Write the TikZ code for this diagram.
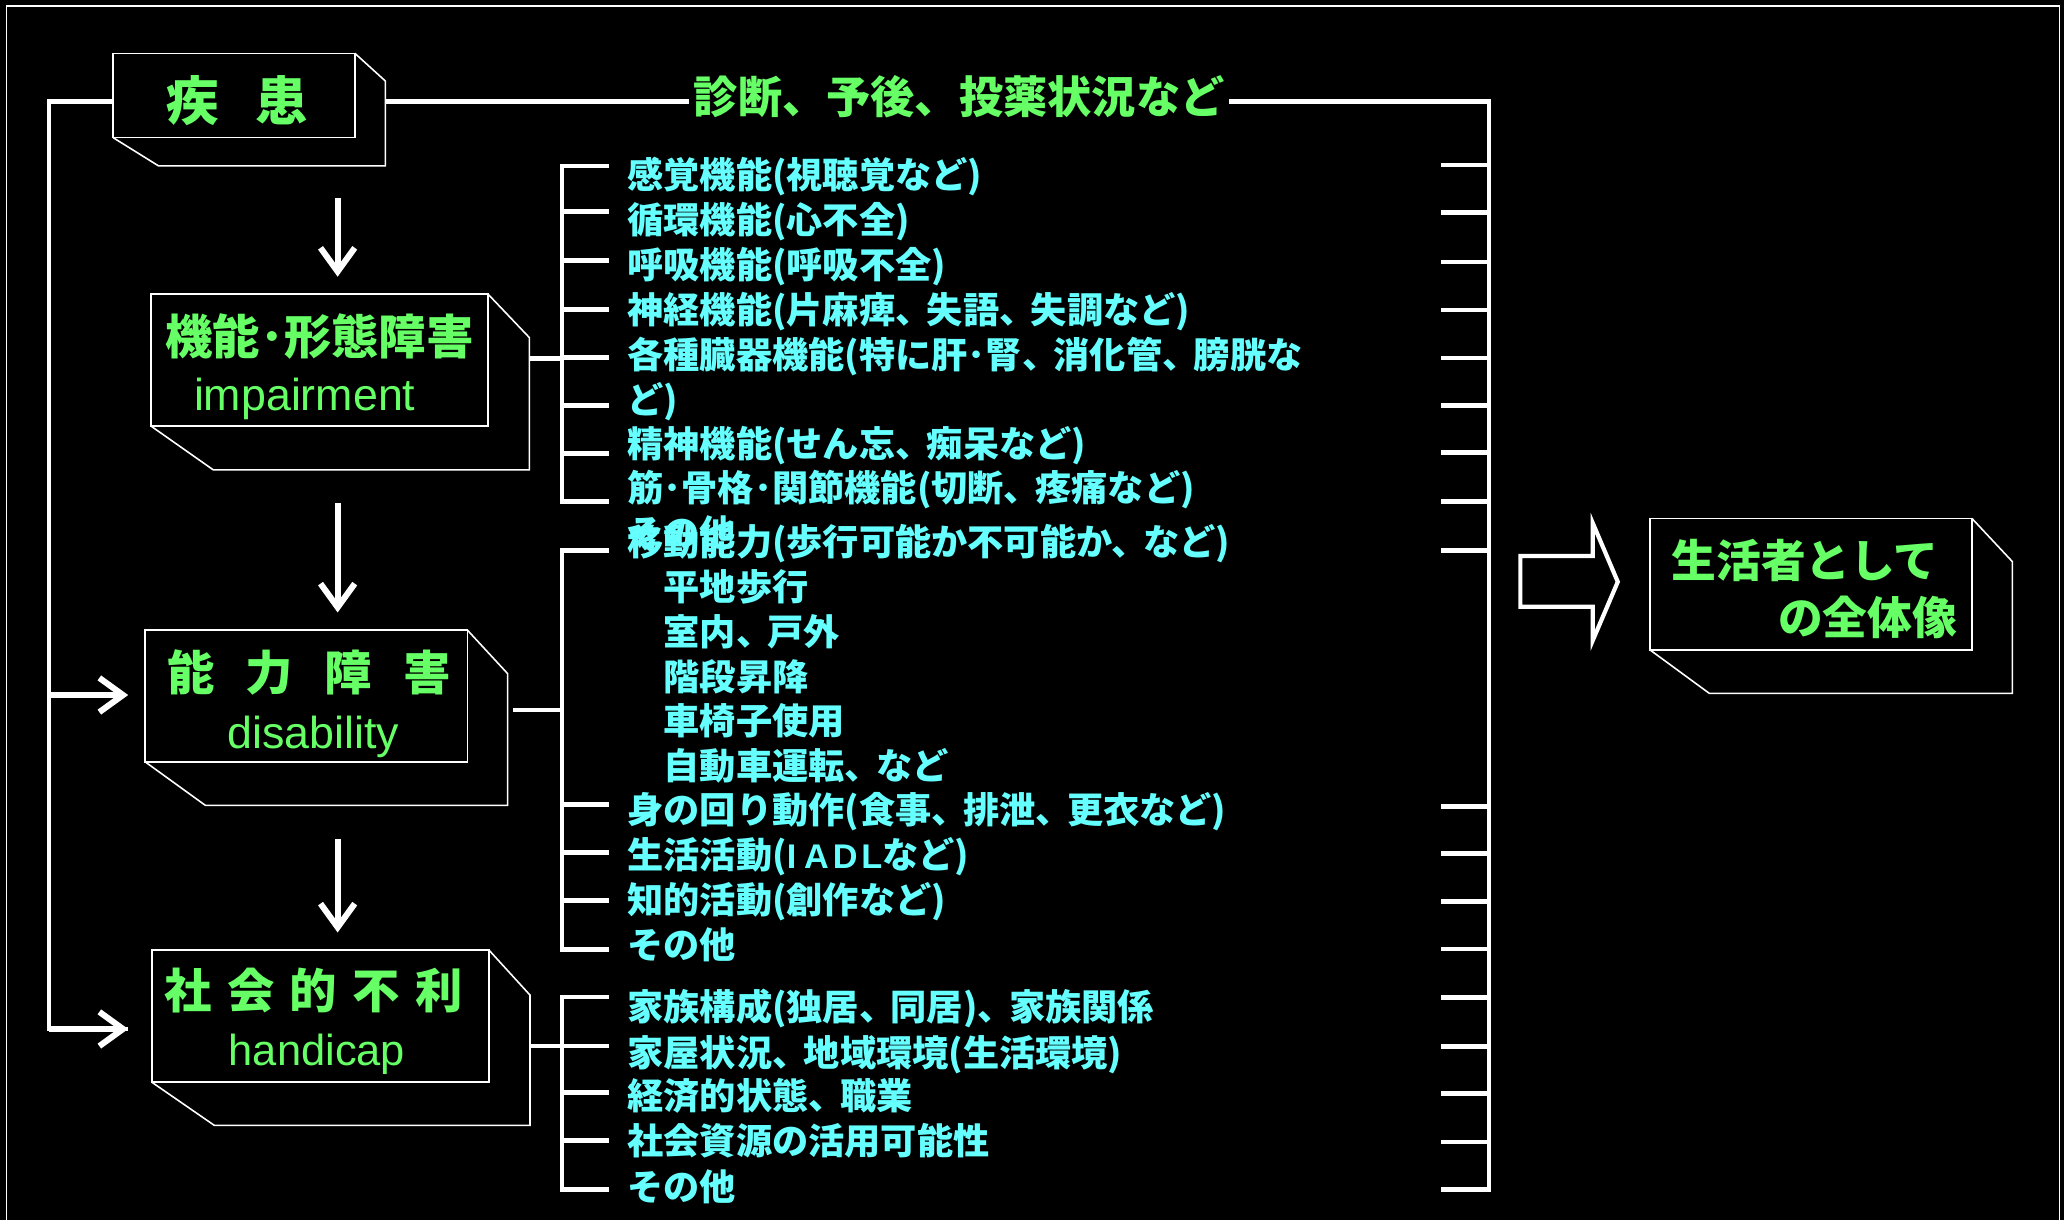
\documentclass[tikz,border=0pt]{standalone}
\usepackage{fontspec}
\usetikzlibrary{arrows.meta}
\newfontfamily\jp{Noto Sans CJK JP}
\newfontfamily\lat{Liberation Sans}
\definecolor{lgreen}{RGB}{102,255,102}
\definecolor{lcyan}{RGB}{102,255,255}
\newcommand\tc{、\kern-3.5pt}
\begin{document}
\begin{tikzpicture}[x=1pt,y=-1pt,
  frontbox/.style={draw=white,line width=1.2pt,inner sep=0pt,outer sep=0pt},
  boxline/.style={draw=white,line width=1.2pt,line join=miter},
  conn/.style={draw=white,line width=3.6pt,line join=miter},
  arr/.style={draw=white,line width=4.6pt,-{Straight Barb[length=18pt,width=26pt]}},
  item/.style={anchor=base west,inner sep=0pt,text=lcyan,font=\jp\bfseries\fontsize{27.5}{30}\selectfont},
  glabel/.style={anchor=base,inner sep=0pt,text=lgreen,font=\jp\bfseries\fontsize{36}{40}\selectfont},
  elabel/.style={anchor=base,inner sep=0pt,text=lgreen,font=\lat\fontsize{34}{38}\selectfont}]
\fill[black] (0,0) rectangle (1568,927);
\useasboundingbox (0,0) rectangle (1568,927);
\draw[white,line width=1.3pt] (5,935) -- (5,4.5) -- (1564.5,4.5) -- (1564.5,935);

% ---- boxes ----
\node[frontbox,minimum width=183.6pt,minimum height=64.1pt] (dis) at (177.8,72.55) {};
\draw[boxline] (dis.north east) -- (292.7,61.5) -- (292.7,126) -- (120.4,126) -- (dis.south west);
\node[frontbox,minimum width=256.1pt,minimum height=100.2pt] (imp) at (242.65,273.5) {};
\draw[boxline] (imp.north east) -- (402.2,256.5) -- (402.2,357) -- (162.1,357) -- (imp.south west);
\node[frontbox,minimum width=244.8pt,minimum height=100.1pt] (dab) at (232.6,528.65) {};
\draw[boxline] (dab.north east) -- (385.6,511.7) -- (385.6,611.8) -- (156,611.8) -- (dab.south west);
\node[frontbox,minimum width=256.1pt,minimum height=100.4pt] (soc) at (243.35,771.9) {};
\draw[boxline] (soc.north east) -- (402.6,755.9) -- (402.6,854.9) -- (162.8,854.9) -- (soc.south west);
\node[frontbox,minimum width=244.4pt,minimum height=100pt] (whole) at (1375.8,443.8) {};
\draw[boxline] (whole.north east) -- (1528.8,426.7) -- (1528.8,526.7) -- (1298.5,526.7) -- (whole.south west);

% ---- labels in boxes ----
\node[glabel,font=\jp\bfseries\fontsize{40}{44}\selectfont] (tdis) at (180.3,91.4) {疾\hspace{27pt}患};
\node[glabel] (timp) at (242.8,269.3) {機能･形態障害};
\node[elabel] (eimp) at (231.5,312) {impairment};
\node[glabel] (tdab) at (234.9,524.2) {能\hspace{24pt}力\hspace{24pt}障\hspace{24pt}害};
\node[elabel] (edab) at (238,568.3) {disability};
\node[glabel] (tsoc) at (238.3,765.9) {社\hspace{11.5pt}会\hspace{11.5pt}的\hspace{11.5pt}不\hspace{11.5pt}利};
\node[elabel,font=\lat\fontsize{33}{37}\selectfont] (esoc) at (240.8,809.5) {handicap};
\node[glabel,anchor=base west,font=\jp\bfseries\fontsize{34}{38}\selectfont] (tw1) at (1269.6,438.75) {生活者として};
\node[glabel,anchor=base east,font=\jp\bfseries\fontsize{34}{38}\selectfont] (tw2) at (1487,481.75) {の全体像};

% ---- title on top line ----
\node[glabel,inner xsep=3.5pt,font=\jp\bfseries\fontsize{33.6}{38}\selectfont] (title) at (728.7,86.25) {診断、予後、投薬状況など};

% ---- coordinates ----
\coordinate (disR) at (292.7,77.2);
\coordinate (lc) at (37.3,77.2);
\coordinate (la2s) at (37.3,528);
\coordinate (la2) at (97.4,528);
\coordinate (la3) at (97.4,781.7);
\coordinate (rc) at (1131.2,77.2);
\coordinate (rb) at (1131.2,903.5);
\coordinate (rbt) at (1095,903.5);

% ---- main connectors ----
\draw[conn] (dis.west |- lc) -- (lc) -- (lc |- la3) -- (la3);
\draw[arr] (lc |- la3) -- (la3);
\draw[arr] (la2s) -- (la2);
\draw[conn] (disR) -- (title.west |- disR);
\draw[conn] (title.east |- rc) -- (rc) -- (rb) -- (rbt);

% down arrows
\coordinate (d1s) at (256.5,150.7); \coordinate (d1e) at (256.5,210.2);
\coordinate (d2s) at (256.5,382);   \coordinate (d2e) at (256.5,465.3);
\coordinate (d3s) at (256.5,637);   \coordinate (d3e) at (256.5,708.4);
\draw[arr] (d1s) -- (d1e);
\draw[arr] (d2s) -- (d2e);
\draw[arr] (d3s) -- (d3e);

% right ticks
\foreach \y [count=\i] in {125.4,161.4,199,235.5,272,308,344,381,418,612.6,648.6,685,721,758,795,830.6,867.5}{
  \coordinate (ra\i) at (1095,\y);
  \draw[conn] (ra\i) -- (rc |- ra\i);
}

% ---- left brackets ----
\coordinate (b1t) at (427,126.1); \coordinate (b1b) at (427,381.1);
\coordinate (b2t) at (427,418);   \coordinate (b2b) at (427,721.3);
\coordinate (b3t) at (427,757.3); \coordinate (b3b) at (427,903.7);
\draw[conn] ([xshift=35.7pt]b1t) -- (b1t) -- (b1b) -- ([xshift=35.7pt]b1b);
\draw[conn] ([xshift=35.7pt]b2t) -- (b2t) -- (b2b) -- ([xshift=35.7pt]b2b);
\draw[conn] ([xshift=35.7pt]b3t) -- (b3t) -- (b3b) -- ([xshift=35.7pt]b3b);
\foreach \y [count=\i] in {160.8,198.1,235,271.5,308.2,344.4,611.4,647.8,684,794.6,830.2,866.4}{
  \coordinate (lt\i) at (427,\y);
  \draw[conn] (lt\i) -- ([xshift=35.7pt]lt\i);
}
% box to bracket connectors
\coordinate (c1) at (401.7,272.2);
\coordinate (c2) at (389.5,539.4);
\coordinate (c3) at (401.7,794.6);
\draw[conn] (c1) -- (b1t |- c1);
\draw[conn] (c2) -- (b2t |- c2);
\draw[conn] (c3) -- (b3t |- c3);

% ---- hollow arrow ----
\draw[white,line width=3.2pt,line join=miter]
  (1155,422.4) -- (1210,422.4) -- (1210,397.4) -- (1229,442) -- (1210,486.5) -- (1210,461) -- (1155,461) -- cycle;

% ---- items ----
\node[item] (i1) at (476.5,143.3) {感覚機能(視聴覚など)};
\node[item] (i2) at (476.5,177.3) {循環機能(心不全)};
\node[item] (i3) at (476.5,211.3) {呼吸機能(呼吸不全)};
\node[item] (i4) at (476.5,245.6) {神経機能(片麻痺\tc 失語\tc 失調など)};
\node[item] (i5) at (476.5,280.1) {各種臓器機能(特に肝･腎\tc 消化管\tc 膀胱な};
\node[item] (i6) at (476.5,314.1) {ど)};
\node[item] (i7) at (476.5,347.3) {精神機能(せん忘\tc 痴呆など)};
\node[item] (i8) at (476.5,381.3) {筋･骨格･関節機能(切断\tc 疼痛など)};
\node[item] (i9) at (476.5,414.8) {その他};
\node[item] (i10) at (476.5,422.3) {移動能力(歩行可能か不可能か\tc など)};
\node[item] (i11) at (504,456.3) {平地歩行};
\node[item] (i12) at (504,490.3) {室内\tc 戸外};
\node[item] (i13) at (504,524.3) {階段昇降};
\node[item] (i14) at (504,558.3) {車椅子使用};
\node[item] (i15) at (504,592.3) {自動車運転\tc など};
\node[item] (i16) at (476.5,625.8) {身の回り動作(食事\tc 排泄\tc 更衣など)};
\node[item] (i17) at (476.5,659.8) {生活活動({\lat\fontsize{26}{28}\selectfont I\hspace{6pt}A\hspace{3pt}D\hspace{3pt}L}など)};
\node[item] (i18) at (476.5,694.3) {知的活動(創作など)};
\node[item] (i19) at (476.5,728.3) {その他};
\node[item] (i20) at (476.5,775) {家族構成(独居\tc 同居)\tc 家族関係};
\node[item] (i21) at (476.5,810.3) {家屋状況\tc 地域環境(生活環境)};
\node[item] (i22) at (476.5,842.8) {経済的状態\tc 職業};
\node[item] (i23) at (476.5,877.3) {社会資源の活用可能性};
\node[item] (i24) at (476.5,912.3) {その他};
\end{tikzpicture}
\end{document}
